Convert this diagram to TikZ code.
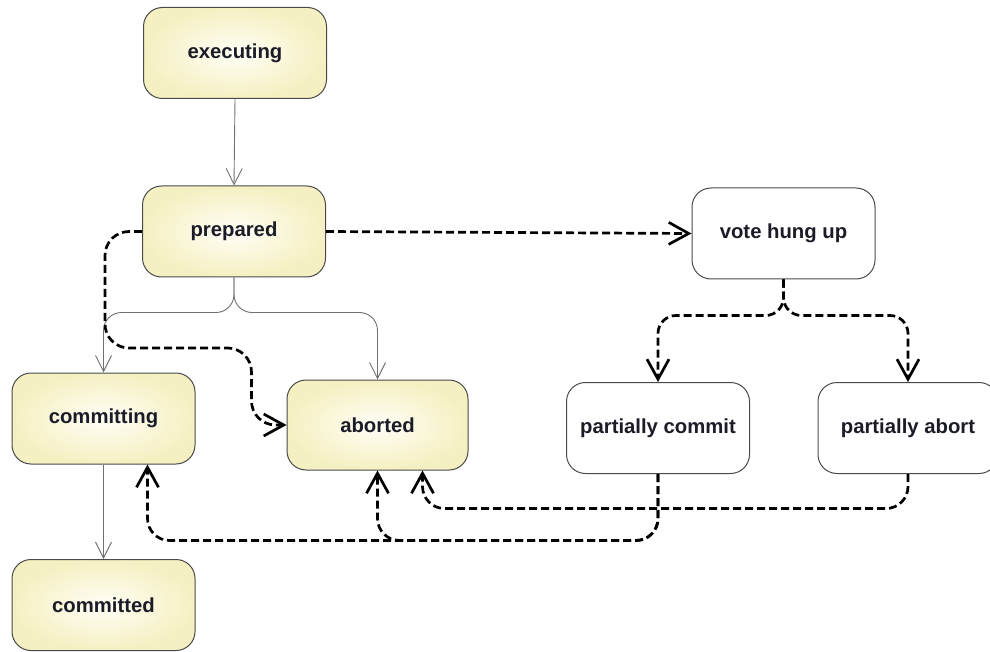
\documentclass[tikz,border=0pt]{standalone}
\usepackage{fontspec}
\setmainfont{Liberation Sans}
\usetikzlibrary{arrows.meta,calc}
\definecolor{edgeyel}{HTML}{F5F0C2}
\definecolor{centeryel}{HTML}{FFFEF6}
\definecolor{boxline}{HTML}{4A4A4A}
\definecolor{thinline}{HTML}{707070}
\definecolor{txt}{HTML}{1C1C28}
\begin{document}
\begin{tikzpicture}[x=1pt,y=-1pt,
  basebox/.style={rectangle, rounded corners=19pt, draw=boxline, line width=1pt,
    minimum width=183pt, minimum height=91pt, inner sep=0pt, text=txt,
    font=\bfseries\fontsize{20.3}{24}\selectfont},
  yelbox/.style={basebox, inner color=centeryel, outer color=edgeyel},
  whitebox/.style={basebox, fill=white},
  thinarrow/.style={draw=thinline, line width=0.9pt,
    -{Straight Barb[length=16pt,width=16pt]}},
  dasharrow/.style={draw=black, line width=2.7pt, dash pattern=on 8pt off 4pt,
    -{Straight Barb[length=20pt,width=22pt]}}
]
\useasboundingbox (0,0) rectangle (990,652);

\node[yelbox] (exec) at (235,53) {executing};
\node[yelbox] (prepared) at (234,231.5) {prepared};
\node[whitebox] (vote) at (783.5,233.5) {vote hung up};
\node[yelbox] (committing) at (103.5,418.5) {committing};
\node[yelbox, minimum width=181pt, minimum height=90pt] (aborted) at (377.5,425) {aborted};
\node[whitebox] (pc) at (658,428) {partially commit};
\node[whitebox, minimum width=180pt] (pa) at (908,428) {partially abort};
\node[yelbox] (committed) at (103.5,605) {committed};

% solid transitions
\draw[thinarrow] (exec.south) -- (prepared.north);
\draw[thinarrow, rounded corners=18pt] (prepared.south) -- ++(0,35) -| (committing.north);
\draw[thinarrow, rounded corners=18pt] (prepared.south) -- ++(0,35) -| (aborted.north);
\draw[thinarrow] (committing.south) -- (committed.north);

% dashed transitions
\draw[dasharrow, rounded corners=24pt] (prepared.west) -- ++(-37,0)
  |- ($(aborted.west)+(-35,-77)$) |- (aborted.west);
\draw[dasharrow] (prepared.east) -- (vote.west);
\draw[dasharrow, rounded corners=18pt] (vote.south) -- ++(0,36) -| (pc.north);
\draw[dasharrow, rounded corners=18pt] (vote.south) -- ++(0,36) -| (pa.north);

\draw[dasharrow, rounded corners=22pt] (pc.south)
  |- ([xshift=44pt,yshift=-76pt]committing.south) -- ([xshift=44pt]committing.south);
\draw[dasharrow, rounded corners=22pt] (pc.south)
  |- ([yshift=-70pt]aborted.south) -- (aborted.south);
\draw[dasharrow, rounded corners=22pt] (pa.south)
  |- ([xshift=45pt,yshift=-38pt]aborted.south) -- ([xshift=45pt]aborted.south);
\end{tikzpicture}
\end{document}
